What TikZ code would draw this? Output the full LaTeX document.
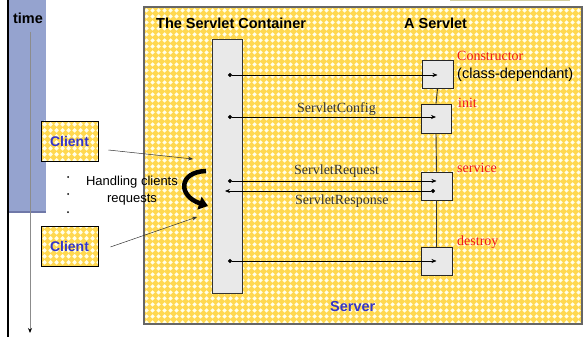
\documentclass[tikz,border=0pt]{standalone}
\usepackage{fontspec}
\setmainfont{Liberation Serif}
\setsansfont{Liberation Sans}
\usetikzlibrary{arrows.meta,patterns.meta}
\definecolor{yel}{HTML}{FFD850}
\definecolor{panel}{HTML}{95A3CF}
\definecolor{panelbot}{HTML}{6F78A8}
\definecolor{boxgray}{HTML}{E9E9E9}
\definecolor{cblue}{HTML}{3535C8}
\definecolor{olivel}{HTML}{D2CE9C}
\definecolor{labred}{HTML}{F01818}
\pgfdeclarepattern{
  name=diamondgrid,
  type=uncolored,
  bottom left={\pgfpoint{0pt}{0pt}},
  top right={\pgfpoint{6pt}{6pt}},
  tile size={\pgfpoint{6pt}{6pt}},
  code={
    \pgfpathmoveto{\pgfpoint{3pt}{0.4pt}}
    \pgfpathlineto{\pgfpoint{5.6pt}{3pt}}
    \pgfpathlineto{\pgfpoint{3pt}{5.6pt}}
    \pgfpathlineto{\pgfpoint{0.4pt}{3pt}}
    \pgfpathclose
    \pgfusepath{fill}
  }
}
\begin{document}
\begin{tikzpicture}[x=1pt,y=-1pt,
  yelfill/.style={preaction={fill=yel}, preaction={pattern=diamondgrid, pattern color=white!92!yellow}},
  serverbox/.style={draw=black!60, line width=1.4pt, yelfill, inner sep=0pt},
  clientbox/.style={draw=black, line width=0.8pt, yelfill, minimum width=57pt, minimum height=40pt, inner sep=0pt,
     font=\sffamily\bfseries\fontsize{14}{16}\selectfont, text=cblue},
  contbox/.style={draw=black!80, fill=boxgray, line width=0.8pt, inner sep=0pt},
  sbox/.style={draw=black!85, fill=boxgray, line width=0.8pt, inner sep=0pt, minimum width=31pt, minimum height=28pt},
  msg/.style={draw=black, line width=0.6pt, {Circle[length=4pt]}-{Stealth[length=5pt,width=4pt]}},
  cliarrow/.style={draw=black!80, line width=0.5pt, -{Stealth[length=5pt,width=4pt]}},
  ttl/.style={font=\sffamily\bfseries\fontsize{14.5}{16}\selectfont, anchor=base west, inner sep=0pt},
  serlab/.style={font=\fontsize{14}{16}\selectfont, text=black!80, anchor=base west, inner sep=0pt},
  redlab/.style={font=\fontsize{14}{16}\selectfont, text=labred, anchor=base west, inner sep=0pt},
  dotn/.style={circle, fill=black, inner sep=0pt, minimum size=2pt}
]
\useasboundingbox (0,0) rectangle (587,337);
% faint box at top right (cut off)
\draw[olivel, line width=1pt] (450,-10) rectangle (569,0.5);
% time panel
\fill[panel] (7,0) rectangle (46,213);
\fill[panelbot] (7,210.5) rectangle (46,213);
\draw[line width=2pt] (7.5,0) -- (7.5,337);
\coordinate (t1) at (30,32);
\coordinate (t2) at (30,333);
\draw[black!45, line width=0.9pt, -{Stealth[length=5pt,width=4pt,black]}] (t1) -- (t2);
\node[font=\sffamily\bfseries\fontsize{14.5}{16}\selectfont, inner sep=0pt] (time) at (28,18) {time};
% server
\node[serverbox, minimum width=438pt, minimum height=317pt] (server) at (363,165.5) {};
\node[ttl] (ctitle) at (156,29) {The Servlet Container};
\node[ttl] (stitle) at (404,29) {A Servlet};
\node[ttl, text=cblue] (srv) at (330,311) {Server};
% container
\node[contbox, minimum width=30pt, minimum height=254pt] (cont) at (227,166) {};
% servlet boxes
\node[sbox] (ctor) at (437.5,74.5) {};
\node[sbox, minimum width=30pt, minimum height=29pt] (init) at (436,118.5) {};
\node[sbox] (serv) at (436.5,186) {};
\node[sbox] (destr) at (436.5,261) {};
\draw[black!80, line width=0.9pt] (ctor.south) -- (init.north);
\draw[black!80, line width=0.9pt] (init.south) -- (serv.north);
\draw[black!80, line width=0.9pt] (serv.south) -- (destr.north);
% messages
\coordinate (m1) at (228,75);
\draw[msg] (m1) -- (m1 -| ctor.center);
\coordinate (m2) at (228,117);
\draw[msg] (m2) -- (m2 -| init.center);
\coordinate (m3) at (228,181);
\draw[msg] (m3) -- (m3 -| serv.center);
\coordinate (m4) at (435,191);
\coordinate (m4e) at (225,191);
\draw[msg] (m4) -- (m4e);
\coordinate (m5) at (228,261);
\draw[msg] (m5) -- (m5 -| destr.center);
% labels
\node[serlab] (lcfg) at (297,113) {ServletConfig};
\node[serlab] (lreq) at (294,175) {ServletRequest};
\node[serlab] (lresp) at (295,204) {ServletResponse};
\node[redlab] (lctor) at (457,61) {Constructor};
\node[font=\sffamily\fontsize{14.5}{16}\selectfont, anchor=base west, inner sep=0pt] (lcd) at (457,79) {(class-dependant)};
\node[redlab] (linit) at (458,108) {init};
\node[redlab] (lserv) at (457,172) {service};
\node[redlab] (ldes) at (457,245) {destroy};
% clients
\node[clientbox] (cl1) at (69.5,141) {Client};
\node[clientbox] (cl2) at (69.5,246) {Client};
\node[dotn] (d1) at (68,177) {};
\node[dotn] (d2) at (68,194) {};
\node[dotn] (d3) at (68,212) {};
\coordinate (h1) at (193,159);
\coordinate (h2) at (197,217);
\draw[cliarrow] ([xshift=10pt,yshift=-9pt]cl1.east) -- (h1);
\draw[cliarrow] ([xshift=12pt,yshift=-1pt]cl2.east) -- (h2);
\node[font=\sffamily\fontsize{13}{17}\selectfont, align=center, inner sep=0pt, anchor=base] (hand) at (132,202) {Handling clients\\requests};
% curved arrow
\coordinate (ca1) at (206,171);
\coordinate (ca2) at (208,206);
\draw[line width=4.5pt, -{Triangle[length=9pt,width=13pt]}] (ca1) .. controls (178,172) and (178,196) .. (ca2);
\end{tikzpicture}
\end{document}
